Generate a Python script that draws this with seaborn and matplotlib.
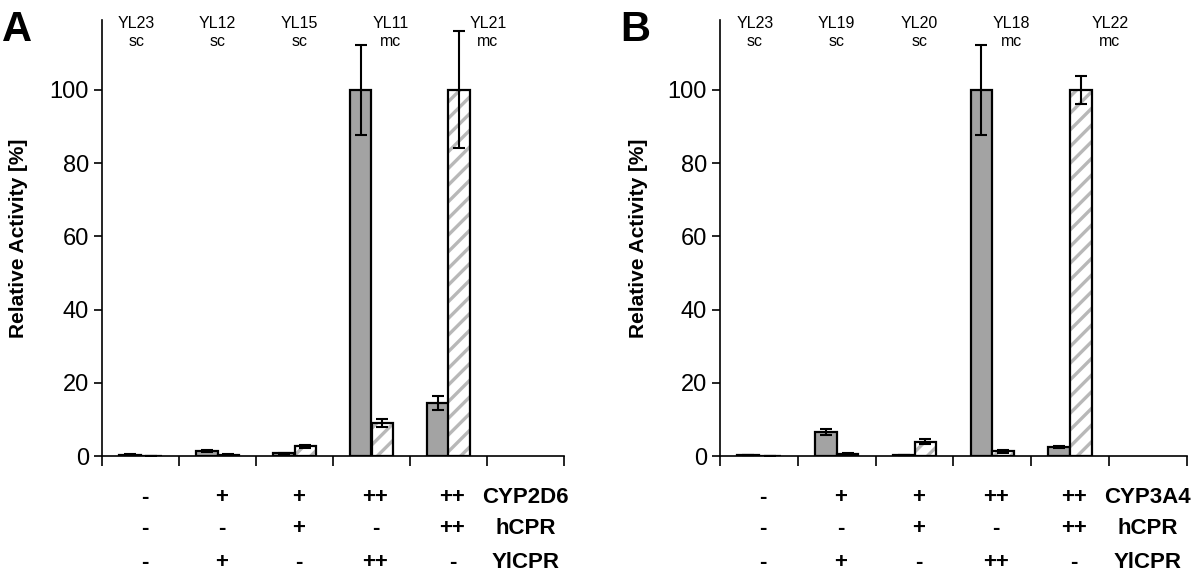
import numpy as np
import pandas as pd
import matplotlib
matplotlib.use("Agg")
import matplotlib.pyplot as plt
import seaborn as sns
from matplotlib.patches import Rectangle
from matplotlib.transforms import blended_transform_factory

"""
Relative activity of CYP2D6 / CYP3A4 strains with hCPR / YlCPR co-expression.
Two panels, grey and hatched bars per strain, +/- table below the axis.
"""

# panel A
strains_a = ["YL23", "YL12", "YL15", "YL11", "YL21"]
copies_a = ["sc", "sc", "sc", "mc", "mc"]
grey_a = [0.4, 1.5, 0.8, 100.0, 14.5]
grey_err_a = [0.1, 0.3, 0.2, 12.3, 1.8]
hatched_a = [0.1, 0.4, 2.7, 9.1, 100.0]
hatched_err_a = [0.0, 0.1, 0.4, 1.0, 16.0]
cyp_a = ["-", "+", "+", "++", "++"]
hcpr_a = ["-", "-", "+", "-", "++"]
ylcpr_a = ["-", "+", "-", "++", "-"]

# panel B
strains_b = ["YL23", "YL19", "YL20", "YL18", "YL22"]
copies_b = ["sc", "sc", "sc", "mc", "mc"]
grey_b = [0.3, 6.5, 0.3, 100.0, 2.5]
grey_err_b = [0.1, 0.8, 0.1, 12.3, 0.2]
hatched_b = [0.1, 0.7, 4.0, 1.3, 100.0]
hatched_err_b = [0.0, 0.2, 0.8, 0.4, 3.8]
cyp_b = ["-", "+", "+", "++", "++"]
hcpr_b = ["-", "-", "+", "-", "++"]
ylcpr_b = ["-", "+", "-", "++", "-"]

GREY = "#a3a3a3"
HATCH_GREY = "#b8b8b8"
header_shift = [-0.05, 0.0, 0.06, 0.25, 0.51]

sns.set_style("ticks")
plt.rcParams["font.family"] = ["Liberation Sans", "DejaVu Sans"]
plt.rcParams["hatch.linewidth"] = 2.4
for key in ["text.color", "axes.labelcolor", "xtick.color", "ytick.color", "axes.edgecolor"]:
    plt.rcParams[key] = "black"


def draw_panel(ax, letter_x, label_x, letter, strains, copies, grey, grey_err,
               hatched, hatched_err, rows, row_names):
    n = len(strains)
    df = pd.DataFrame({
        "strain": strains * 2,
        "series": ["grey"] * n + ["hatched"] * n,
        "activity": grey + hatched,
    })
    sns.barplot(data=df, x="strain", y="activity", hue="series",
                order=strains, hue_order=["grey", "hatched"],
                palette={"grey": GREY, "hatched": "white"},
                width=0.56, saturation=1, edgecolor="black", linewidth=1.6,
                errorbar=None, legend=False, ax=ax)

    # hatched bars: light grey hatch, black outline on top
    for p in ax.containers[1]:
        p.set_hatch("//")
        p.set_edgecolor(HATCH_GREY)
        p.set_linewidth(0)
        ax.add_patch(Rectangle((p.get_x(), p.get_y()), p.get_width(), p.get_height(),
                               fill=False, edgecolor="black", linewidth=1.6, zorder=3))

    for cont, errs in zip(ax.containers[:2], [grey_err, hatched_err]):
        xs = [p.get_x() + p.get_width() / 2 for p in cont]
        hs = [p.get_height() for p in cont]
        ax.errorbar(xs, hs, yerr=errs, fmt="none", ecolor="black",
                    elinewidth=1.5, capsize=4.5, capthick=1.5, zorder=4)

    ax.set_xlim(-0.5, 5.5)
    ax.set_ylim(0, 119)
    ax.set_yticks([0, 20, 40, 60, 80, 100])
    ax.set_xticks(np.arange(-0.5, 6.0, 1.0))
    ax.set_xticklabels([])
    ax.set_xlabel("")
    ax.tick_params(axis="x", direction="out", length=7, width=1.2)
    ax.tick_params(axis="y", direction="out", length=6, width=1.2, labelsize=17)
    for s in ["top", "right"]:
        ax.spines[s].set_visible(False)
    ax.spines["left"].set_linewidth(1.2)
    ax.spines["bottom"].set_linewidth(1.2)

    ax.set_ylabel("Relative Activity [%]", fontsize=15, fontweight="bold")
    ax.yaxis.set_label_coords(label_x, 0.5)

    tr = blended_transform_factory(ax.transData, ax.transAxes)
    for i, (s, c) in enumerate(zip(strains, copies)):
        ax.text(i + header_shift[i], 1.01, f"{s}\n{c}", transform=tr,
                ha="center", va="top", fontsize=11.5, linespacing=1.25)

    row_y = [-0.094, -0.165, -0.243]
    for vals, name, y in zip(rows, row_names, row_y):
        for i, v in enumerate(vals):
            ax.text(i + 0.05, y, v, transform=tr, ha="center", va="center",
                    fontsize=16, fontweight="bold")
        ax.text(5.0, y, name, transform=tr, ha="center", va="center",
                fontsize=16, fontweight="bold")

    ax.figure.text(letter_x, 0.982, letter, fontsize=30, fontweight="bold",
                   ha="left", va="top")


fig = plt.figure(figsize=(12, 5.76), dpi=100)
ax_a = fig.add_axes([0.085, 0.208, 0.385, 0.757])
ax_b = fig.add_axes([0.600, 0.208, 0.389, 0.757])

draw_panel(ax_a, 0.002, -0.16, "A", strains_a, copies_a, grey_a, grey_err_a,
           hatched_a, hatched_err_a, [cyp_a, hcpr_a, ylcpr_a],
           ["CYP2D6", "hCPR", "YlCPR"])
draw_panel(ax_b, 0.517, -0.154, "B", strains_b, copies_b, grey_b, grey_err_b,
           hatched_b, hatched_err_b, [cyp_b, hcpr_b, ylcpr_b],
           ["CYP3A4", "hCPR", "YlCPR"])

fig.savefig("out.png", dpi=100)
